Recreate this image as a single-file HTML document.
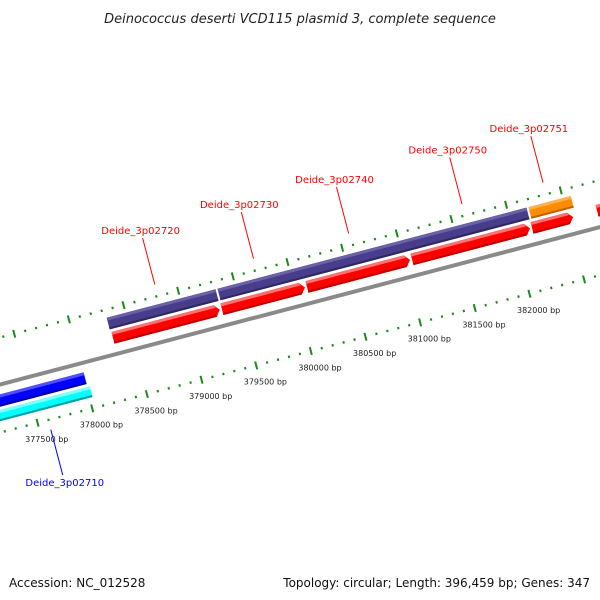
<!DOCTYPE html>
<html><head><meta charset="utf-8"><style>
body{margin:0;background:#fff}
svg{display:block;font-family:"DejaVu Sans","Liberation Sans",sans-serif}
</style></head><body>
<svg id="map" width="600" height="600" viewBox="0 0 600 600">
<text x="300" y="23" text-anchor="middle" font-size="13" font-style="italic" fill="#222">Deinococcus deserti VCD115 plasmid 3, complete sequence</text>
<text x="9" y="587" font-size="12" fill="#111">Accession: NC_012528</text>
<text x="590" y="587" font-size="12" fill="#111" text-anchor="end">Topology: circular; Length: 396,459 bp; Genes: 347</text>
<g id="plot"></g>
</svg>
<script>
const fwdStarts=[378336,379333,380111,381072,382170,382765];
const fwdEnds=[379314,380093,381054,382152,382546,383200];
const cogStarts=[378327,379341,382186];
const cogEnds=[379323,382168,382573];
const cogColors=["#483d8b","#483d8b","#ff8c00"];
const revStarts=[376500];const revEnds=[378007];
const revCogStarts=[376500];const revCogEnds=[378028];
const tickLabels=[377500,378000,378500,379000,379500,380000,380500,381000,381500,382000];
const geneLabels=["Deide_3p02720","Deide_3p02730","Deide_3p02740","Deide_3p02750","Deide_3p02751"];
const geneLabelPos=[378814,379717,380588,381624,382366];
const revLabel="Deide_3p02710";const revLabelPos=377598;

const NS="http://www.w3.org/2000/svg";
const plot=document.getElementById('plot');
const a=14.7*Math.PI/180,C=Math.cos(a),S=Math.sin(a),OX=0,OY=384;
const U=bp=>83+(bp-378000)*0.113;
function P(u,v){return [OX+u*C+v*S, OY-u*S+v*C];}
function mk(tag,at){const e=document.createElementNS(NS,tag);for(const k in at)e.setAttribute(k,at[k]);plot.appendChild(e);return e;}
function poly(pts,fill){return mk('polygon',{points:pts.map(p=>P(p[0],p[1]).join(',')).join(' '),fill:fill});}
function band(u1,u2,v1,v2,fill,light,dark,arrow){
  const t=arrow?Math.min(5,(u2-u1)/2):0;
  const mid=(v1+v2)/2;
  let e=poly(arrow?[[u1,v1],[u2-t,v1],[u2,mid],[u2-t,v2],[u1,v2]]:[[u1,v1],[u2,v1],[u2,v2],[u1,v2]],fill);
  let l=poly([[u1,v1],[u2-t,v1],[u2-t*0.7,v1+3],[u1,v1+3]],light);
  let d=poly([[u1,v2-2],[u2-t*0.6,v2-2],[u2-t,v2],[u1,v2]],dark);
  return [e,l,d];
}
let bb=poly([[-50,-1.5],[700,-1.5],[700,2.5],[-50,2.5]],"#8a8a8a");


for(let bp=376500;bp<=384000;bp+=100){
  const major=bp%500===0;
  [-45,47].forEach(v=>{
    const h=major?4:1.2;
    const p1=P(U(bp),v-h),p2=P(U(bp),v+h);
    const ln=mk('line',{x1:p1[0],y1:p1[1],x2:p2[0],y2:p2[1],stroke:"#1a8a1a","stroke-width":2});
    
    
  });
}
tickLabels.forEach(bp=>{
  const p=P(U(bp)+4,68);
  const t=mk('text',{x:p[0],y:p[1],"font-size":8,"text-anchor":"middle",fill:"#222"});
  t.textContent=bp+" bp";
  
  
});
fwdStarts.forEach((s,i)=>{
  band(U(s),U(fwdEnds[i]),-22,-10,"#ff0000","#ff7070","#c00000",true).forEach(e=>{
    
    
  });
});
cogStarts.forEach((s,i)=>{
  const c=cogColors[i];
  band(U(s),U(cogEnds[i]),-37,-25,c,c==="#ff8c00"?"#ffb050":"#6a62a8",c==="#ff8c00"?"#c06000":"#2f2760",false).forEach(e=>{
    
    
  });
});
revStarts.forEach((s,i)=>{
  band(U(s),U(revEnds[i]),10,22,"#0000ff","#5050ff","#0000a0",false).forEach(e=>{
    
    
  });
});
revCogStarts.forEach((s,i)=>{
  band(U(s),U(revCogEnds[i]),25,36,"#00ffff","#80ffff","#00a0a0",false).forEach(e=>{
    
    
  });
});
geneLabels.forEach((g,i)=>{
  const u=U(geneLabelPos[i]);
  const p1=P(u,-57),p2=P(u,-105);
  const ln=mk('line',{x1:p1[0],y1:p1[1],x2:p2[0],y2:p2[1],stroke:"#ff0000","stroke-width":1});
  
  
  const t=mk('text',{x:p2[0]-2,y:p2[1]-4,"font-size":10,"text-anchor":"middle",fill:"#ff0000"});
  t.textContent=g;
  
  
});
{
  const u=U(revLabelPos);
  const p1=P(u,57),p2=P(u,104);
  const ln=mk('line',{x1:p1[0],y1:p1[1],x2:p2[0],y2:p2[1],stroke:"#0000ff","stroke-width":1});
  
  
  const t=mk('text',{x:p2[0]+2,y:p2[1]+11,"font-size":10,"text-anchor":"middle",fill:"#0000ff"});
  t.textContent=revLabel;
  
  
}
</script>
</body></html>
